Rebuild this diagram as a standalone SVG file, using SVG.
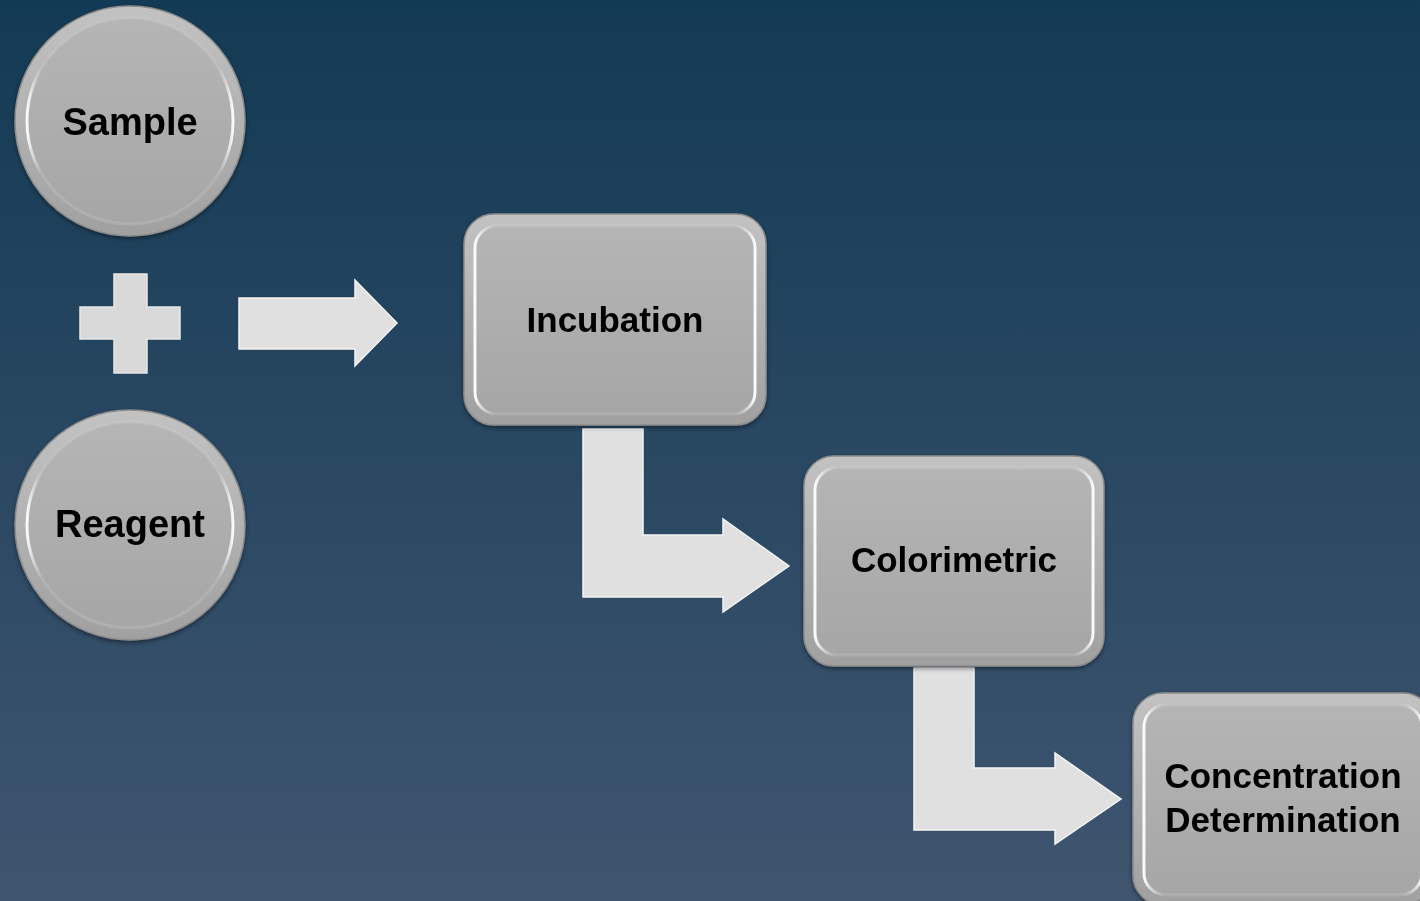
<svg xmlns="http://www.w3.org/2000/svg" width="1420" height="901" viewBox="0 0 1420 901">
<defs>
  <linearGradient id="bg" x1="0" y1="0" x2="0" y2="1">
    <stop offset="0" stop-color="#133a54"/>
    <stop offset="1" stop-color="#3f5570"/>
  </linearGradient>
  <linearGradient id="outer" x1="0" y1="0" x2="0" y2="1">
    <stop offset="0" stop-color="#c2c2c2"/>
    <stop offset="0.5" stop-color="#b2b2b2"/>
    <stop offset="1" stop-color="#a0a0a0"/>
  </linearGradient>
  <linearGradient id="inner" x1="0" y1="0" x2="0" y2="1">
    <stop offset="0" stop-color="#b5b5b5"/>
    <stop offset="1" stop-color="#a6a6a6"/>
  </linearGradient>
  <linearGradient id="rim" x1="0" y1="0" x2="1" y2="0">
    <stop offset="0" stop-color="#ffffff" stop-opacity="0.95"/>
    <stop offset="0.07" stop-color="#d8d8d8" stop-opacity="0.2"/>
    <stop offset="0.93" stop-color="#d8d8d8" stop-opacity="0.2"/>
    <stop offset="1" stop-color="#ffffff" stop-opacity="0.95"/>
  </linearGradient>
  <filter id="sh" x="-10%" y="-10%" width="120%" height="125%">
    <feGaussianBlur in="SourceAlpha" stdDeviation="2"/>
    <feOffset dy="2"/>
    <feComponentTransfer><feFuncA type="linear" slope="0.45"/></feComponentTransfer>
    <feMerge><feMergeNode/><feMergeNode in="SourceGraphic"/></feMerge>
  </filter>
</defs>
<style>
  .outer { fill: url(#outer); stroke: #8c8c8c; stroke-width: 1.5; }
  .inner { fill: url(#inner); stroke: url(#rim); stroke-width: 3; }
  .lbl { font-family: "Liberation Sans", Arial, sans-serif; font-weight: bold; fill: #000; text-anchor: middle; }
  .big { font-size: 38px; }
  .med { font-size: 35px; }
  .arrow { fill: #e0e0e0; stroke: #f4f4f4; stroke-width: 1.5; }
  .plus { fill: #d9d9d9; stroke: #e8e8e8; stroke-width: 1.5; }
</style>
<rect x="0" y="0" width="1420" height="901" fill="url(#bg)"/>

<g id="connectors">
  <polygon id="plus" class="plus" points="114,274 147,274 147,307 180,307 180,339 147,339 147,373 114,373 114,339 80,339 80,307 114,307"/>
  <polygon id="arrow-right" class="arrow" points="239,298 355,298 355,280 397,323 355,366 355,349 239,349"/>
  <polygon id="arrow-incub-color" class="arrow" points="583,429 643,429 643,535 723,535 723,519 789,566 723,612 723,597 583,597"/>
  <polygon id="arrow-color-conc" class="arrow" points="914,668 974,668 974,768 1055,768 1055,753 1121,799 1055,844 1055,830 914,830"/>
</g>

<g id="node-sample" filter="url(#sh)">
  <circle class="outer" cx="130" cy="121" r="115"/>
  <circle class="inner" cx="130" cy="121" r="103"/>
  <text class="lbl big" x="130" y="135">Sample</text>
</g>

<g id="node-reagent" filter="url(#sh)">
  <circle class="outer" cx="130" cy="525" r="115"/>
  <circle class="inner" cx="130" cy="525" r="103"/>
  <text class="lbl big" x="130" y="537">Reagent</text>
</g>

<g id="node-incubation" filter="url(#sh)">
  <rect class="outer" x="464" y="214" width="302" height="211" rx="30"/>
  <rect class="inner" x="475" y="226" width="280" height="188" rx="22"/>
  <text class="lbl med" x="615" y="332">Incubation</text>
</g>

<g id="node-colorimetric" filter="url(#sh)">
  <rect class="outer" x="804" y="456" width="300" height="210" rx="30"/>
  <rect class="inner" x="815" y="468" width="278" height="187" rx="22"/>
  <text class="lbl med" x="954" y="572">Colorimetric</text>
</g>

<g id="node-concentration" filter="url(#sh)">
  <rect class="outer" x="1133" y="693" width="300" height="212" rx="30"/>
  <rect class="inner" x="1144" y="705" width="278" height="190" rx="22"/>
  <text class="lbl med" x="1283" y="788">Concentration</text>
  <text class="lbl med" x="1283" y="832">Determination</text>
</g>
</svg>
